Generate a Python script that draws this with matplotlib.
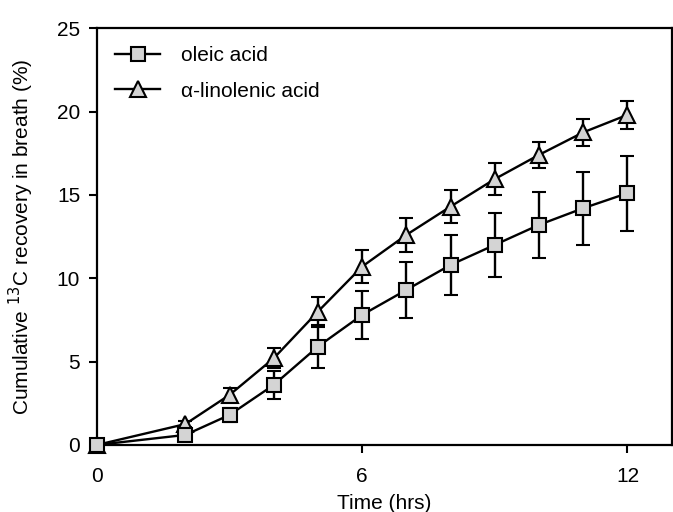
import matplotlib.pyplot as plt
from matplotlib.lines import Line2D

plt.rcParams['font.family'] = ['Liberation Sans', 'DejaVu Sans']

# Temps (h) et récupération cumulée du 13C (%)
hours = [0, 2, 3, 4, 5, 6, 7, 8, 9, 10, 11, 12]
oleic = [0, 0.6, 1.8, 3.6, 5.9, 7.8, 9.3, 10.8, 12.0, 13.2, 14.2, 15.1]
oleic_err = [0, 0.2, 0.4, 0.85, 1.3, 1.45, 1.7, 1.8, 1.9, 2.0, 2.2, 2.25]
linolenic = [0, 1.25, 3.0, 5.2, 8.0, 10.7, 12.6, 14.3, 15.95, 17.4, 18.75, 19.8]
linolenic_err = [0, 0.2, 0.4, 0.6, 0.9, 1.0, 1.0, 1.0, 0.95, 0.8, 0.8, 0.85]
labels = ['oleic acid', '\u03b1-linolenic acid']

fig = plt.figure(figsize=(6.73, 5.12), dpi=100)
ax = fig.add_axes([0.144, 0.131, 0.854, 0.814])

fill = '#d4d4d4'
style = dict(color='black', lw=1.7, mfc=fill, mec='black', mew=1.5,
             capsize=5, capthick=1.7, elinewidth=1.7, clip_on=False)
ax.errorbar(hours, oleic, yerr=oleic_err, marker='s', ms=10, zorder=3, **style)
ax.errorbar(hours, linolenic, yerr=linolenic_err, marker='^', ms=11, zorder=2, **style)

ax.set_xlim(0, 13)
ax.set_ylim(0, 25)
ax.set_xticks([0, 6, 12])
ax.set_yticks([0, 5, 10, 15, 20, 25])
ax.tick_params(direction='out', length=6, width=1.5, labelsize=15, pad=6)
ax.tick_params(axis='x', pad=10)
for s in ax.spines.values():
    s.set_linewidth(1.6)

ax.set_xlabel('Time (hrs)', fontsize=15, labelpad=6)
ax.set_ylabel('Cumulative $^{13}$C recovery in breath (%)', fontsize=15,
              labelpad=15)

handles = [
    Line2D([], [], color='black', lw=1.7, marker='s', ms=10, mfc=fill, mec='black', mew=1.5),
    Line2D([], [], color='black', lw=1.7, marker='^', ms=11, mfc=fill, mec='black', mew=1.5),
]
ax.legend(handles, labels, loc='upper left', frameon=False, fontsize=15,
          handlelength=2.2, handletextpad=1.0, labelspacing=0.8,
          borderaxespad=0.45)

fig.savefig('out.png', dpi=100)
